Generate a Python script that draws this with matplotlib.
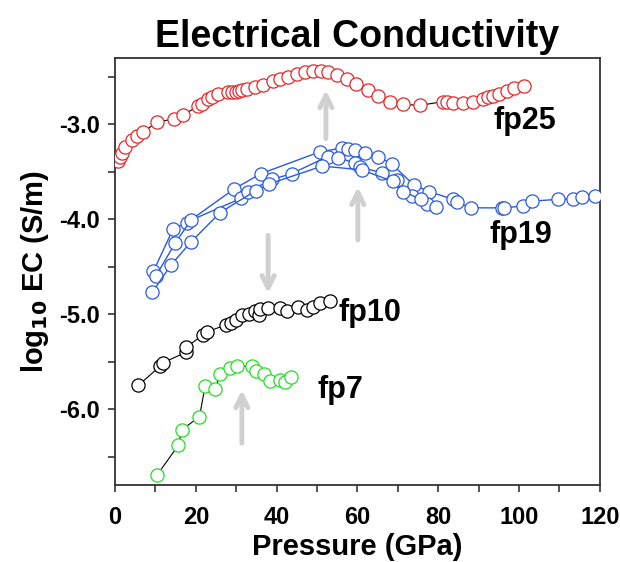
import numpy as np
import matplotlib.pyplot as plt
from matplotlib.ticker import MultipleLocator

plt.rcParams['font.family'] = ['Liberation Sans', 'DejaVu Sans']
plt.rcParams['font.weight'] = 'bold'

# fp25
p25 = [0.8, 1.2, 1.7, 2.5, 4.3, 5.5, 7.0, 10.3, 14.7, 16.9, 20.5, 21.5, 23.1, 23.9, 25.6,
       28.0, 29.0, 29.9, 30.7, 31.5, 32.6, 34.7, 36.7, 39.2, 40.8, 42.9, 45.0, 47.0, 49.1,
       50.9, 52.8, 54.9, 57.3, 59.7, 62.5, 65.2, 68.1, 71.2, 75.5, 81.3, 82.1, 83.7, 86.2,
       88.7, 91.2, 92.4, 93.6, 95.1, 97.0, 98.8, 101.2]
ec25 = [-3.39, -3.34, -3.30, -3.24, -3.17, -3.12, -3.08, -2.98, -2.94, -2.90, -2.81, -2.79,
        -2.73, -2.71, -2.68, -2.66, -2.66, -2.66, -2.65, -2.64, -2.63, -2.61, -2.59, -2.54,
        -2.52, -2.50, -2.47, -2.45, -2.44, -2.44, -2.45, -2.48, -2.52, -2.58, -2.64, -2.70,
        -2.76, -2.79, -2.80, -2.76, -2.77, -2.78, -2.78, -2.76, -2.73, -2.71, -2.70, -2.68,
        -2.65, -2.62, -2.60]

# fp19, three runs
p19a = [9.5, 14.4, 17.7, 29.5, 36.1, 50.7, 56.1, 57.7, 59.4, 61.9, 65.2, 68.5, 74.0, 77.8,
        83.7, 84.7, 88.0, 95.7, 96.3, 101.1, 103.1, 109.7, 113.4, 115.5, 118.8]
ec19a = [-4.55, -4.10, -4.04, -3.68, -3.52, -3.29, -3.25, -3.26, -3.27, -3.30, -3.34, -3.42,
         -3.64, -3.71, -3.79, -3.82, -3.88, -3.88, -3.88, -3.86, -3.81, -3.79, -3.79, -3.77, -3.75]
p19b = [10.1, 14.9, 18.8, 31.2, 32.8, 38.9, 43.7, 52.6, 55.3, 59.4, 60.6, 66.0, 69.9, 73.4,
        77.3, 79.5]
ec19b = [-4.60, -4.25, -4.01, -3.78, -3.71, -3.58, -3.52, -3.34, -3.35, -3.41, -3.45, -3.51,
         -3.59, -3.75, -3.84, -3.87]
p19c = [9.2, 13.9, 18.8, 26.0, 34.8, 38.0, 51.3, 61.1, 68.7, 71.4, 75.7]
ec19c = [-4.77, -4.48, -4.24, -3.93, -3.70, -3.63, -3.44, -3.48, -3.60, -3.71, -3.79]

# fp10
p10 = [5.8, 11.1, 12.0, 17.6, 17.6, 21.7, 22.7, 27.5, 28.6, 30.0, 31.4, 33.2, 34.7, 35.7,
       35.9, 37.9, 40.8, 42.6, 45.4, 47.4, 49.1, 50.7, 53.2]
ec10 = [-5.75, -5.55, -5.51, -5.40, -5.35, -5.22, -5.19, -5.11, -5.09, -5.06, -5.01, -5.00,
        -4.97, -5.01, -4.95, -4.94, -4.94, -4.97, -4.92, -4.96, -4.92, -4.88, -4.86]

# fp7
p7 = [10.5, 15.7, 16.5, 20.9, 22.3, 24.8, 26.0, 28.5, 30.3, 33.8, 34.9, 36.9, 38.4, 40.8,
      42.1, 43.5]
ec7 = [-6.69, -6.38, -6.22, -6.08, -5.76, -5.79, -5.63, -5.57, -5.55, -5.55, -5.60, -5.63,
       -5.70, -5.69, -5.71, -5.66]

# grey arrows: (x, y_tail, y_head)
arrows = [(52.2, -3.15, -2.64), (60.1, -4.22, -3.66), (37.9, -4.17, -4.78), (31.4, -6.36, -5.80)]

fig = plt.figure(figsize=(6.2, 5.62), dpi=100)
ax = fig.add_axes([0.1855, 0.137, 0.782, 0.760])

mk = dict(marker='o', ms=9.5, mfc='white', mew=0.9, zorder=3)
ax.plot(p25, ec25, color='black', lw=0.8, zorder=2)
ax.plot(p25, ec25, ls='none', mec='#e8262a', **mk)
for xs, ys in [(p19a, ec19a), (p19b, ec19b), (p19c, ec19c)]:
    ax.plot(xs, ys, color='#2a5ae0', lw=1.0, mec='#2a5ae0', **mk)
ax.plot(p10, ec10, color='black', lw=0.8, mec='black', **mk)
ax.plot(p7, ec7, color='black', lw=0.8, zorder=2)
ax.plot(p7, ec7, ls='none', mec='#22e022', **mk)

for x, y0, y1 in arrows:
    ax.annotate('', xy=(x, y1), xytext=(x, y0),
                arrowprops=dict(arrowstyle='->', color='#d0d0d0', lw=3.5,
                                mutation_scale=22, shrinkA=0, shrinkB=0), zorder=1)

ax.text(93.6, -3.05, 'fp25', fontsize=22, fontweight='bold')
ax.text(92.8, -4.25, 'fp19', fontsize=22, fontweight='bold')
ax.text(55.2, -5.07, 'fp10', fontsize=22, fontweight='bold')
ax.text(50.0, -5.88, 'fp7', fontsize=22, fontweight='bold')

ax.set_xlim(0, 120)
ax.set_ylim(-6.8, -2.3)
ax.xaxis.set_major_locator(MultipleLocator(20))
ax.xaxis.set_minor_locator(MultipleLocator(10))
ax.yaxis.set_minor_locator(MultipleLocator(0.5))
ax.set_yticks([-6, -5, -4, -3])
ax.set_yticklabels(['-6.0', '-5.0', '-4.0', '-3.0'])
ax.tick_params(which='both', direction='out', length=5, width=1.2, color='#333333',
               top=False, right=False)
ax.tick_params(axis='x', labelsize=17, pad=10)
ax.tick_params(axis='y', labelsize=17, pad=6)
for lab in ax.get_xticklabels() + ax.get_yticklabels():
    lab.set_fontweight('bold')
for s in ax.spines.values():
    s.set_linewidth(1.3)
    s.set_color('#333333')

ax.set_xlabel('Pressure (GPa)', fontsize=21, fontweight='bold', labelpad=3)
ax.set_ylabel(r'log$_{\mathbf{10}}$ EC (S/m)', fontsize=21, fontweight='bold', labelpad=6)
ax.set_title('Electrical Conductivity', fontsize=27, fontweight='bold', pad=8)

fig.savefig('out.png', dpi=100)
